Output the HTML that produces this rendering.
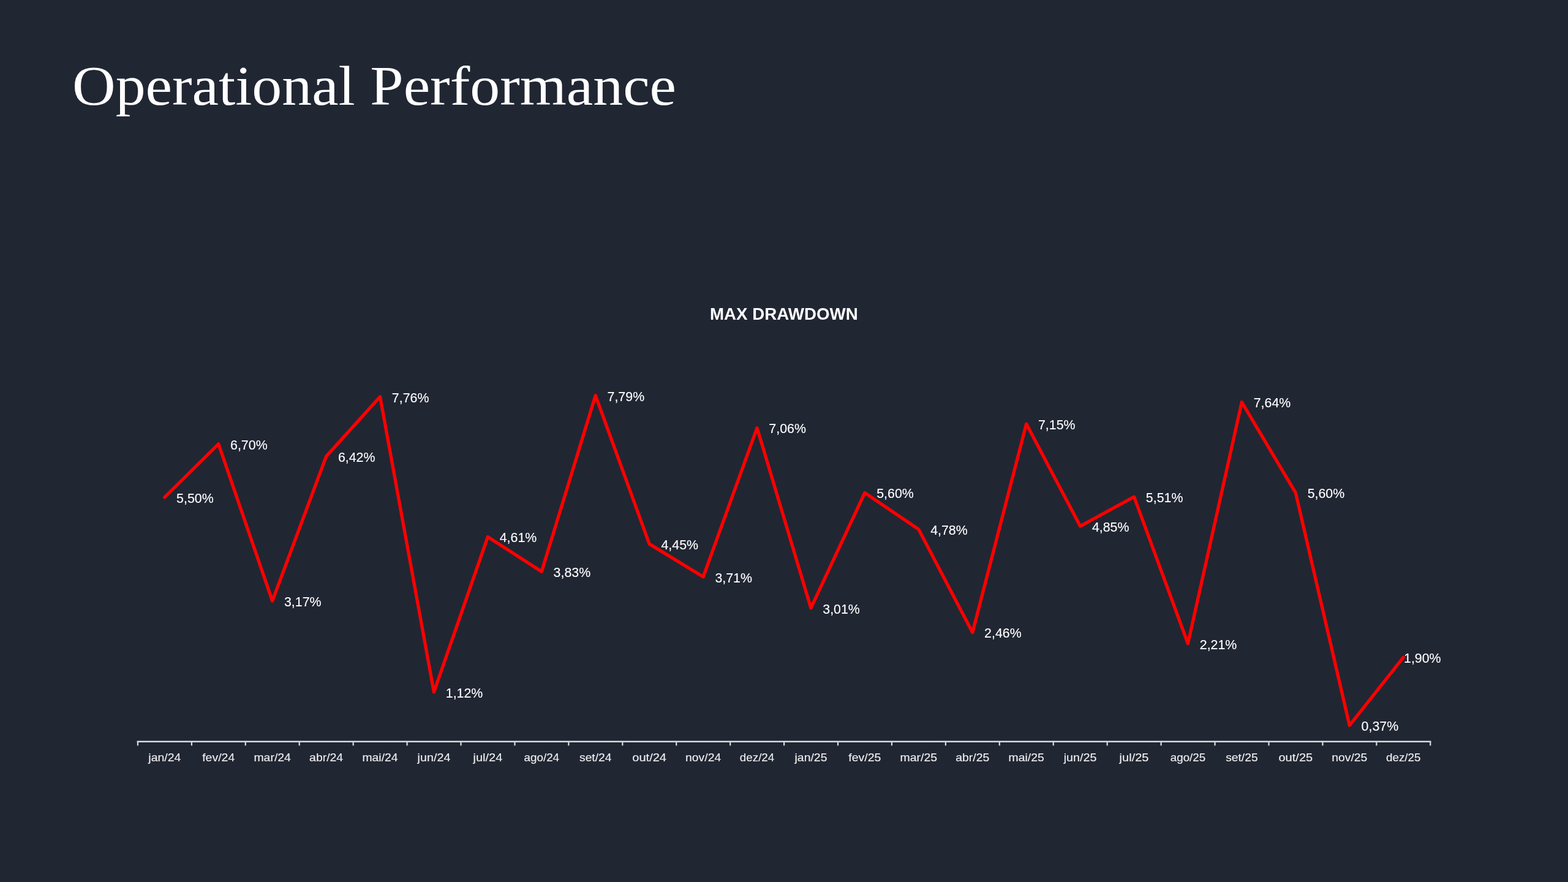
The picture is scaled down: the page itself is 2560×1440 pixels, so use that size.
<!DOCTYPE html>
<html><head><meta charset="utf-8"><title>Operational Performance</title>
<style>
html,body{margin:0;padding:0;background:#212633;}
body{width:2560px;height:1440px;overflow:hidden;font-family:"Liberation Sans",sans-serif;}
svg{display:block;position:absolute;left:0;top:0;will-change:transform;}
.ttl{font-family:"Liberation Serif",serif;font-size:93px;fill:#fff;stroke:#fff;stroke-width:1.5px;stroke-linejoin:round;}
.ct{font-family:"Liberation Sans",sans-serif;font-weight:bold;font-size:26.8px;fill:#fff;}
.dl{font-family:"Liberation Sans",sans-serif;font-size:21.7px;fill:#fff;stroke:#fff;stroke-width:0.12px;}
.al{font-family:"Liberation Sans",sans-serif;font-size:17.8px;fill:#ededed;stroke:#ededed;stroke-width:0.15px;}
</style></head><body>
<svg width="2560" height="1440" viewBox="0 0 2560 1440">
<text class="ct" x="1158.9" y="522.4" textLength="241.8" lengthAdjust="spacingAndGlyphs">MAX DRAWDOWN</text>
<text x="118" y="170.8" textLength="986" lengthAdjust="spacingAndGlyphs" style="font-family:&quot;Liberation Serif&quot;,serif;font-size:91px" fill="#fff" stroke="none">Operational Performance</text>
<g stroke="#d9dcdf" stroke-width="2.4" fill="none">
<line x1="223.65" y1="1210.75" x2="2336.37" y2="1210.75"/>
<line x1="224.95" y1="1210.75" x2="224.95" y2="1217.3" stroke-width="2.2"/>
<line x1="312.88" y1="1210.75" x2="312.88" y2="1217.3" stroke-width="2.2"/>
<line x1="400.81" y1="1210.75" x2="400.81" y2="1217.3" stroke-width="2.2"/>
<line x1="488.74" y1="1210.75" x2="488.74" y2="1217.3" stroke-width="2.2"/>
<line x1="576.67" y1="1210.75" x2="576.67" y2="1217.3" stroke-width="2.2"/>
<line x1="664.60" y1="1210.75" x2="664.60" y2="1217.3" stroke-width="2.2"/>
<line x1="752.53" y1="1210.75" x2="752.53" y2="1217.3" stroke-width="2.2"/>
<line x1="840.46" y1="1210.75" x2="840.46" y2="1217.3" stroke-width="2.2"/>
<line x1="928.39" y1="1210.75" x2="928.39" y2="1217.3" stroke-width="2.2"/>
<line x1="1016.32" y1="1210.75" x2="1016.32" y2="1217.3" stroke-width="2.2"/>
<line x1="1104.25" y1="1210.75" x2="1104.25" y2="1217.3" stroke-width="2.2"/>
<line x1="1192.18" y1="1210.75" x2="1192.18" y2="1217.3" stroke-width="2.2"/>
<line x1="1280.11" y1="1210.75" x2="1280.11" y2="1217.3" stroke-width="2.2"/>
<line x1="1368.04" y1="1210.75" x2="1368.04" y2="1217.3" stroke-width="2.2"/>
<line x1="1455.97" y1="1210.75" x2="1455.97" y2="1217.3" stroke-width="2.2"/>
<line x1="1543.90" y1="1210.75" x2="1543.90" y2="1217.3" stroke-width="2.2"/>
<line x1="1631.83" y1="1210.75" x2="1631.83" y2="1217.3" stroke-width="2.2"/>
<line x1="1719.76" y1="1210.75" x2="1719.76" y2="1217.3" stroke-width="2.2"/>
<line x1="1807.69" y1="1210.75" x2="1807.69" y2="1217.3" stroke-width="2.2"/>
<line x1="1895.62" y1="1210.75" x2="1895.62" y2="1217.3" stroke-width="2.2"/>
<line x1="1983.55" y1="1210.75" x2="1983.55" y2="1217.3" stroke-width="2.2"/>
<line x1="2071.48" y1="1210.75" x2="2071.48" y2="1217.3" stroke-width="2.2"/>
<line x1="2159.41" y1="1210.75" x2="2159.41" y2="1217.3" stroke-width="2.2"/>
<line x1="2247.34" y1="1210.75" x2="2247.34" y2="1217.3" stroke-width="2.2"/>
<line x1="2335.27" y1="1210.75" x2="2335.27" y2="1217.3" stroke-width="2.2"/>
</g>
<polyline points="268.81,811.90 356.75,724.78 444.68,981.06 532.61,745.11 620.54,647.82 708.47,1129.89 796.40,876.51 884.33,933.14 972.26,645.65 1060.18,888.13 1148.12,941.85 1236.05,698.64 1323.97,992.67 1411.90,804.64 1499.84,864.17 1587.77,1032.60 1675.69,692.11 1763.62,859.09 1851.56,811.17 1939.49,1050.75 2027.41,656.54 2115.35,804.64 2203.28,1184.34 2291.20,1073.26" fill="none" stroke="#ff0000" stroke-width="5.33" stroke-linejoin="round" stroke-linecap="round"/>
<text class="dl" x="288.12" y="820.75" textLength="60.6" lengthAdjust="spacingAndGlyphs">5,50%</text>
<text class="dl" x="376.05" y="733.63" textLength="60.6" lengthAdjust="spacingAndGlyphs">6,70%</text>
<text class="dl" x="463.98" y="989.91" textLength="60.6" lengthAdjust="spacingAndGlyphs">3,17%</text>
<text class="dl" x="551.90" y="753.96" textLength="60.6" lengthAdjust="spacingAndGlyphs">6,42%</text>
<text class="dl" x="639.84" y="656.67" textLength="60.6" lengthAdjust="spacingAndGlyphs">7,76%</text>
<text class="dl" x="727.76" y="1138.74" textLength="60.6" lengthAdjust="spacingAndGlyphs">1,12%</text>
<text class="dl" x="815.70" y="885.36" textLength="60.6" lengthAdjust="spacingAndGlyphs">4,61%</text>
<text class="dl" x="903.62" y="941.99" textLength="60.6" lengthAdjust="spacingAndGlyphs">3,83%</text>
<text class="dl" x="991.56" y="654.50" textLength="60.6" lengthAdjust="spacingAndGlyphs">7,79%</text>
<text class="dl" x="1079.48" y="896.98" textLength="60.6" lengthAdjust="spacingAndGlyphs">4,45%</text>
<text class="dl" x="1167.41" y="950.70" textLength="60.6" lengthAdjust="spacingAndGlyphs">3,71%</text>
<text class="dl" x="1255.35" y="707.49" textLength="60.6" lengthAdjust="spacingAndGlyphs">7,06%</text>
<text class="dl" x="1343.27" y="1001.52" textLength="60.6" lengthAdjust="spacingAndGlyphs">3,01%</text>
<text class="dl" x="1431.20" y="813.49" textLength="60.6" lengthAdjust="spacingAndGlyphs">5,60%</text>
<text class="dl" x="1519.13" y="873.02" textLength="60.6" lengthAdjust="spacingAndGlyphs">4,78%</text>
<text class="dl" x="1607.07" y="1041.45" textLength="60.6" lengthAdjust="spacingAndGlyphs">2,46%</text>
<text class="dl" x="1694.99" y="700.96" textLength="60.6" lengthAdjust="spacingAndGlyphs">7,15%</text>
<text class="dl" x="1782.92" y="867.94" textLength="60.6" lengthAdjust="spacingAndGlyphs">4,85%</text>
<text class="dl" x="1870.86" y="820.02" textLength="60.6" lengthAdjust="spacingAndGlyphs">5,51%</text>
<text class="dl" x="1958.79" y="1059.60" textLength="60.6" lengthAdjust="spacingAndGlyphs">2,21%</text>
<text class="dl" x="2046.71" y="665.39" textLength="60.6" lengthAdjust="spacingAndGlyphs">7,64%</text>
<text class="dl" x="2134.65" y="813.49" textLength="60.6" lengthAdjust="spacingAndGlyphs">5,60%</text>
<text class="dl" x="2222.58" y="1193.19" textLength="60.6" lengthAdjust="spacingAndGlyphs">0,37%</text>
<text class="dl" x="2292.01" y="1082.11" textLength="60.6" lengthAdjust="spacingAndGlyphs">1,90%</text>
<text class="al" x="242.38" y="1242.8" textLength="52.9" lengthAdjust="spacingAndGlyphs">jan/24</text>
<text class="al" x="330.19" y="1242.8" textLength="53.1" lengthAdjust="spacingAndGlyphs">fev/24</text>
<text class="al" x="414.41" y="1242.8" textLength="60.5" lengthAdjust="spacingAndGlyphs">mar/24</text>
<text class="al" x="505.08" y="1242.8" textLength="55.1" lengthAdjust="spacingAndGlyphs">abr/24</text>
<text class="al" x="591.47" y="1242.8" textLength="58.1" lengthAdjust="spacingAndGlyphs">mai/24</text>
<text class="al" x="681.58" y="1242.8" textLength="53.8" lengthAdjust="spacingAndGlyphs">jun/24</text>
<text class="al" x="772.47" y="1242.8" textLength="47.9" lengthAdjust="spacingAndGlyphs">jul/24</text>
<text class="al" x="855.56" y="1242.8" textLength="57.5" lengthAdjust="spacingAndGlyphs">ago/24</text>
<text class="al" x="946.02" y="1242.8" textLength="52.5" lengthAdjust="spacingAndGlyphs">set/24</text>
<text class="al" x="1032.32" y="1242.8" textLength="55.7" lengthAdjust="spacingAndGlyphs">out/24</text>
<text class="al" x="1119.08" y="1242.8" textLength="58.1" lengthAdjust="spacingAndGlyphs">nov/24</text>
<text class="al" x="1207.87" y="1242.8" textLength="56.4" lengthAdjust="spacingAndGlyphs">dez/24</text>
<text class="al" x="1297.54" y="1242.8" textLength="52.9" lengthAdjust="spacingAndGlyphs">jan/25</text>
<text class="al" x="1385.36" y="1242.8" textLength="53.1" lengthAdjust="spacingAndGlyphs">fev/25</text>
<text class="al" x="1469.57" y="1242.8" textLength="60.5" lengthAdjust="spacingAndGlyphs">mar/25</text>
<text class="al" x="1560.24" y="1242.8" textLength="55.1" lengthAdjust="spacingAndGlyphs">abr/25</text>
<text class="al" x="1646.62" y="1242.8" textLength="58.1" lengthAdjust="spacingAndGlyphs">mai/25</text>
<text class="al" x="1736.73" y="1242.8" textLength="53.8" lengthAdjust="spacingAndGlyphs">jun/25</text>
<text class="al" x="1827.62" y="1242.8" textLength="47.9" lengthAdjust="spacingAndGlyphs">jul/25</text>
<text class="al" x="1910.72" y="1242.8" textLength="57.5" lengthAdjust="spacingAndGlyphs">ago/25</text>
<text class="al" x="2001.17" y="1242.8" textLength="52.5" lengthAdjust="spacingAndGlyphs">set/25</text>
<text class="al" x="2087.48" y="1242.8" textLength="55.7" lengthAdjust="spacingAndGlyphs">out/25</text>
<text class="al" x="2174.24" y="1242.8" textLength="58.1" lengthAdjust="spacingAndGlyphs">nov/25</text>
<text class="al" x="2263.03" y="1242.8" textLength="56.4" lengthAdjust="spacingAndGlyphs">dez/25</text>
</svg>
</body></html>
